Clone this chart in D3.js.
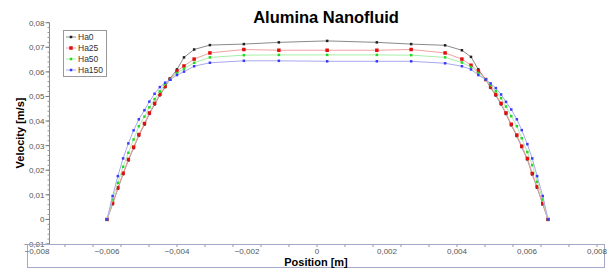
<!DOCTYPE html>
<html>
<head>
<meta charset="utf-8">
<script src="https://d3js.org/d3.v7.min.js"></script>
<style>
    body { margin: 0; background: #fff; }
    text { font-family: "Liberation Sans", Arial, sans-serif; }
</style>
</head>
<body>
<script>
// positions along the channel [m]
var position = [-0.0060, -0.00584, -0.00569, -0.00554, -0.00539, -0.00524, -0.00509, -0.00493, -0.00479, -0.00464,
    -0.00449, -0.00434, -0.00420, -0.00400, -0.00380, -0.00351, -0.00306, -0.00209, -0.00109, 0.00029,
    0.00171, 0.00269, 0.00366, 0.00414, 0.00440, 0.00461, 0.00482, 0.00496, 0.00511, 0.00526,
    0.00540, 0.00555, 0.00571, 0.00585, 0.00601, 0.00615, 0.00629, 0.00645, 0.00660];

// velocity [m/s] per Hartmann number
var ha0 = [0, 0.0062, 0.0125, 0.0184, 0.0240, 0.0290, 0.0341, 0.0386, 0.0429, 0.0468,
    0.0505, 0.0538, 0.0573, 0.0610, 0.0659, 0.0691, 0.0709, 0.0713, 0.0720, 0.0726,
    0.0720, 0.0713, 0.0708, 0.0688, 0.0661, 0.0610, 0.0569, 0.0535, 0.0504, 0.0468,
    0.0429, 0.0383, 0.0339, 0.0294, 0.0244, 0.0183, 0.0129, 0.0061, 0];
var ha25 = [0, 0.0066, 0.0129, 0.0188, 0.0244, 0.0294, 0.0345, 0.0390, 0.0433, 0.0472,
    0.0509, 0.0542, 0.0570, 0.0603, 0.0624, 0.0652, 0.0677, 0.0691, 0.0688, 0.0688,
    0.0688, 0.0691, 0.0677, 0.0652, 0.0627, 0.0603, 0.0569, 0.0539, 0.0508, 0.0472,
    0.0433, 0.0387, 0.0343, 0.0298, 0.0248, 0.0187, 0.0133, 0.0065, 0];
var ha50 = [0, 0.0081, 0.0149, 0.0214, 0.0271, 0.0325, 0.0379, 0.0418, 0.0456, 0.0489,
    0.0521, 0.0550, 0.0570, 0.0595, 0.0613, 0.0637, 0.0659, 0.0668, 0.0669, 0.0669,
    0.0669, 0.0668, 0.0659, 0.0638, 0.0620, 0.0595, 0.0569, 0.0546, 0.0521, 0.0493,
    0.0459, 0.0420, 0.0379, 0.0330, 0.0274, 0.0221, 0.0153, 0.0081, 0];
var ha150 = [0, 0.0095, 0.0176, 0.0248, 0.0309, 0.0362, 0.0407, 0.0444, 0.0479, 0.0511,
    0.0538, 0.0556, 0.0568, 0.0587, 0.0601, 0.0623, 0.0637, 0.0645, 0.0645, 0.0643,
    0.0643, 0.0643, 0.0635, 0.0623, 0.0610, 0.0587, 0.0569, 0.0553, 0.0534, 0.0508,
    0.0478, 0.0447, 0.0407, 0.0363, 0.0306, 0.0248, 0.0176, 0.0095, 0];

var seriesNames = ["Ha0", "Ha25", "Ha50", "Ha150"];
var xTicks = [-0.008, -0.006, -0.004, -0.002, 0, 0.002, 0.004, 0.006, 0.008];
var yTicks = [-0.01, 0, 0.01, 0.02, 0.03, 0.04, 0.05, 0.06, 0.07, 0.08];

var series = [
    { name: seriesNames[0], values: ha0,   line: "#8a8a8a", mark: "#222",    size: 2.5 },
    { name: seriesNames[1], values: ha25,  line: "#f3a0a0", mark: "#e01010", size: 3.5 },
    { name: seriesNames[2], values: ha50,  line: "#a8eea8", mark: "#22d822", size: 2.5 },
    { name: seriesNames[3], values: ha150, line: "#a8a8f0", mark: "#3a3aff", size: 2.5 }
];

var width = 610, height = 273;

var svg = d3.select("body").append("svg")
    .attr("width", width)
    .attr("height", height);

var x = d3.scaleLinear().domain([-0.008, 0.008]).range([37, 597]);
var y = d3.scaleLinear().domain([-0.01, 0.08]).range([244, 22.7]);

var fmt = function(d) { return d === 0 ? "0" : d3.format(".3~f")(d).replace(".", ","); };
var fmtY = function(d) { return d === 0 ? "0" : d3.format(".2f")(d).replace(".", ","); };

// title
svg.append("text")
    .attr("x", 326).attr("y", 23)
    .attr("text-anchor", "middle")
    .style("font-size", "16.5px").style("font-weight", "bold")
    .text("Alumina Nanofluid");

// y axis
var yAxis = svg.append("g").attr("transform", "translate(49.5,0)");
yAxis.append("line")
    .attr("y1", y(0.08)).attr("y2", y(-0.01))
    .attr("stroke", "#888");
yAxis.selectAll(".minor")
    .data(d3.range(-0.01, 0.0801, 0.002))
    .enter().append("line")
    .attr("x1", -2).attr("x2", 0)
    .attr("y1", function(d) { return y(d); }).attr("y2", function(d) { return y(d); })
    .attr("stroke", "#999");
yAxis.selectAll(".major")
    .data(yTicks)
    .enter().append("line")
    .attr("x1", -4).attr("x2", 0)
    .attr("y1", function(d) { return y(d); }).attr("y2", function(d) { return y(d); })
    .attr("stroke", "#777");
yAxis.selectAll(".lbl")
    .data(yTicks)
    .enter().append("text")
    .attr("x", -5)
    .attr("y", function(d) { return y(d) + 3; })
    .attr("text-anchor", "end")
    .style("font-size", "8px").attr("fill", "#555")
    .text(fmtY);

svg.append("text")
    .attr("transform", "translate(24,133) rotate(-90)")
    .attr("text-anchor", "middle")
    .style("font-size", "11px").style("font-weight", "bold")
    .text("Velocity [m/s]");

// x axis box
svg.append("rect")
    .attr("x", 27.5).attr("y", 244.5)
    .attr("width", 577).attr("height", 23)
    .attr("fill", "none").attr("stroke", "#a4a8c8");
svg.selectAll(".xminor")
    .data(d3.range(-0.008, 0.00801, 0.0008))
    .enter().append("line")
    .attr("x1", function(d) { return x(d); }).attr("x2", function(d) { return x(d); })
    .attr("y1", 244.5).attr("y2", 247)
    .attr("stroke", "#999");
svg.selectAll(".xlbl")
    .data(xTicks)
    .enter().append("text")
    .attr("x", function(d) { return x(d); })
    .attr("y", 254)
    .attr("text-anchor", "middle")
    .style("font-size", "8px").attr("fill", "#555")
    .text(fmt);
svg.append("text")
    .attr("x", 316).attr("y", 266)
    .attr("text-anchor", "middle")
    .style("font-size", "11px").style("font-weight", "bold")
    .text("Position [m]");

// series
var line = d3.line()
    .x(function(d, i) { return x(position[i]); })
    .y(function(d) { return y(d); });

series.forEach(function(s) {
    var g = svg.append("g");
    g.append("path")
        .datum(s.values)
        .attr("d", line)
        .attr("fill", "none")
        .attr("stroke", s.line)
        .attr("stroke-width", 1);
    g.selectAll("rect")
        .data(s.values)
        .enter().append("rect")
        .attr("x", function(d, i) { return x(position[i]) - s.size / 2; })
        .attr("y", function(d) { return y(d) - s.size / 2; })
        .attr("width", s.size).attr("height", s.size)
        .attr("fill", s.mark);
});

// legend
var legend = svg.append("g").attr("transform", "translate(63,30)");
legend.append("rect")
    .attr("x", 0.5).attr("y", 0.5)
    .attr("width", 43).attr("height", 46)
    .attr("fill", "#fff").attr("stroke", "#999");
var item = legend.selectAll(".item")
    .data(series)
    .enter().append("g")
    .attr("transform", function(d, i) { return "translate(0," + (7 + i * 11) + ")"; });
item.append("line")
    .attr("x1", 3).attr("x2", 13)
    .attr("stroke", function(d) { return d.line; });
item.append("rect")
    .attr("x", function(d) { return 8 - d.size / 2; })
    .attr("y", function(d) { return -d.size / 2; })
    .attr("width", function(d) { return d.size; })
    .attr("height", function(d) { return d.size; })
    .attr("fill", function(d) { return d.mark; });
item.append("text")
    .attr("x", 15).attr("y", 3)
    .style("font-size", "8.5px").attr("fill", "#333")
    .text(function(d) { return d.name; });
</script>
</body>
</html>
